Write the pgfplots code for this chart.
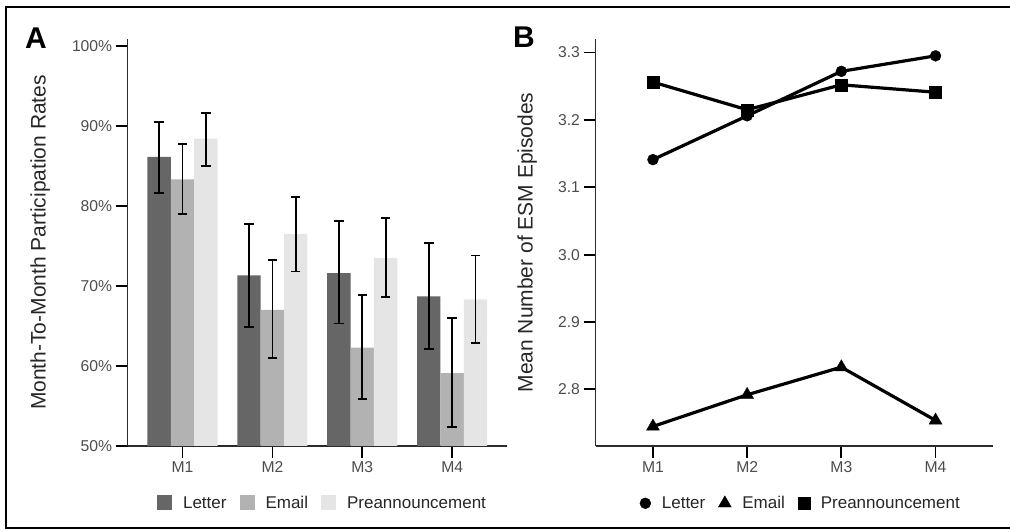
\documentclass[border=0pt]{standalone}
\usepackage{pgfplots}
\pgfplotsset{compat=1.18}
\usepackage{fontspec}
\setmainfont{Liberation Sans}

\definecolor{letterc}{HTML}{666666}
\definecolor{emailc}{HTML}{B2B2B2}
\definecolor{prec}{HTML}{E5E5E5}
\definecolor{tickc}{HTML}{4D4D4D}
\definecolor{axc}{HTML}{2B2B2B}

\pgfplotsset{
  panel/.style={
    scale only axis, height=407pt,
    axis lines=left,
    axis line style={-, line width=1.3pt, draw=axc},
    xtick={0,1,2,3}, xticklabels={M1,M2,M3,M4},
    xmin=-0.61, xmax=3.61,
    tick align=outside,
    major tick length=12pt,
    tick style={draw=black, line width=1.8pt},
    ticklabel style={font=\fontsize{15.7}{18}\selectfont, text=tickc},
    /pgf/number format/assume math mode=true,
    ylabel style={font=\fontsize{21}{24}\selectfont, text=black!85, anchor=center},
    legend columns=3,
    legend style={draw=none, fill=none, anchor=center,
      font=\fontsize{17}{20}\selectfont, text=black!85,
      inner sep=0pt, nodes={inner sep=0pt},
      /tikz/every odd column/.append style={column sep=11pt},
      /tikz/every even column/.append style={column sep=13pt}},
  },
  errs/.style={
    error bars/.cd, y dir=both, y explicit,
    error bar style={draw=black, line width=1.8pt},
    error mark options={draw=black, line width=1.8pt, mark size=4.7pt, rotate=90}
  }
}

\pgfplotstableread{
x y ep em
0 86.1 4.4 4.5
1 71.3 6.4 6.4
2 71.6 6.5 6.3
3 68.7 6.7 6.6
}\letterrate
\pgfplotstableread{
x y ep em
0 83.3 4.4 4.3
1 67.0 6.2 6.0
2 62.3 6.6 6.4
3 59.1 6.9 6.7
}\emailrate
\pgfplotstableread{
x y ep em
0 88.4 3.2 3.4
1 76.5 4.6 4.7
2 73.5 5.0 4.9
3 68.3 5.5 5.4
}\prerate

\begin{document}
\begin{tikzpicture}
\path[use as bounding box] (0,0) rectangle (1010pt,530pt);
\draw[line width=2pt, black] (1010pt,522.5pt) -- (6pt,522.5pt) -- (6pt,1.5pt) -- (1010pt,1.5pt);

\begin{axis}[panel,
    at={(127.7pt,84pt)}, anchor=south west,
    width=379.3pt,
    ybar=0pt, bar width=0.26,
    ymin=50, ymax=100.84,
    ytick={50,60,70,80,90,100},
    yticklabels={50\%,60\%,70\%,80\%,90\%,100\%},
    ylabel={Month-To-Month Participation Rates},
    ylabel style={at={(axis description cs:-0.231,0.5)}},
    legend style={at={(axis description cs:0.511,-0.14)}},
    legend image code/.code={\fill[#1] (0pt,-7.5pt) rectangle (15pt,7.5pt);},
  ]
  \addplot[fill=letterc, draw=none, bar shift=-0.26, errs]
    table[x=x, y=y, y error plus=ep, y error minus=em] {\letterrate};
  \addlegendentry{Letter}
  \addplot[fill=emailc, draw=none, bar shift=0, errs]
    table[x=x, y=y, y error plus=ep, y error minus=em] {\emailrate};
  \addlegendentry{Email}
  \addplot[fill=prec, draw=none, bar shift=0.26, errs]
    table[x=x, y=y, y error plus=ep, y error minus=em] {\prerate};
  \addlegendentry{Preannouncement}
\end{axis}

\begin{axis}[panel,
    at={(595.5pt,84pt)}, anchor=south west,
    width=397.5pt,
    ymin=2.716, ymax=3.32,
    ytick={2.8,2.9,3.0,3.1,3.2,3.3},
    yticklabels={2.8,2.9,3.0,3.1,3.2,3.3},
    ylabel={Mean Number of ESM Episodes},
    ylabel style={at={(axis description cs:-0.172,0.5)}},
    legend style={at={(axis description cs:0.514,-0.14)}},
    legend image code/.code={\draw[#1] plot coordinates {(0pt,0pt)};},
  ]
  \addplot[black, line width=3.2pt, mark=*, mark size=5.5pt, mark options={line width=0.3pt}]
    coordinates {(0,3.141) (1,3.206) (2,3.272) (3,3.295)};
  \addlegendentry{Letter}
  \addplot[black, line width=3.2pt, mark=triangle*, mark size=7.5pt, mark options={line width=0.3pt}]
    coordinates {(0,2.745) (1,2.792) (2,2.833) (3,2.754)};
  \addlegendentry{Email}
  \addplot[black, line width=3.2pt, mark=square*, mark size=6pt, mark options={line width=0.3pt}]
    coordinates {(0,3.256) (1,3.215) (2,3.252) (3,3.241)};
  \addlegendentry{Preannouncement}
\end{axis}

\node[font=\fontsize{30}{34}\selectfont\bfseries] at (36pt,492pt) {A};
\node[font=\fontsize{30}{34}\selectfont\bfseries] at (524pt,493pt) {B};
\end{tikzpicture}
\end{document}
